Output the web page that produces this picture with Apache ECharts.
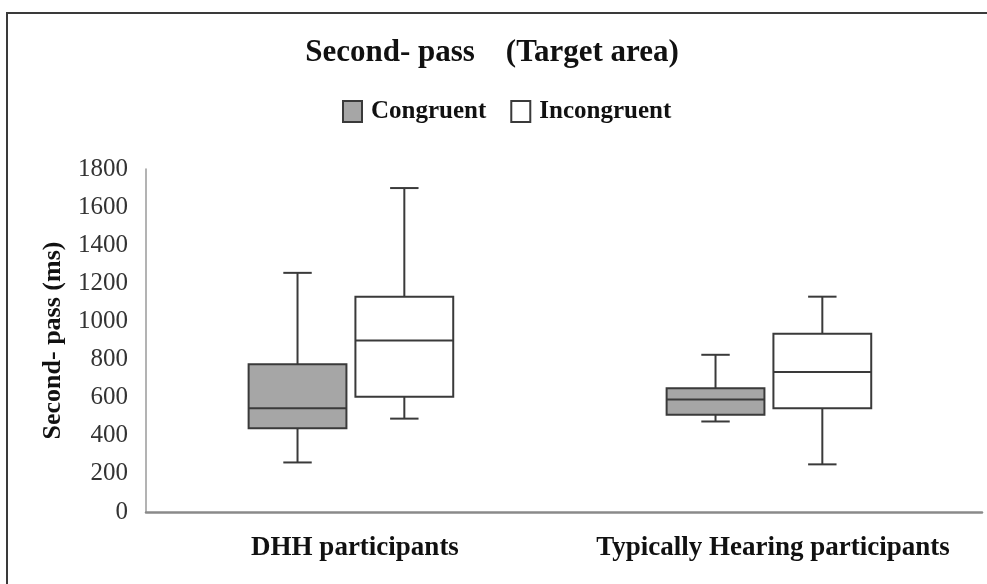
<!DOCTYPE html>
<html>
<head>
<meta charset="utf-8">
<script src="https://cdn.jsdelivr.net/npm/echarts@6/dist/echarts.min.js"></script>
<style>
  html, body { margin: 0; padding: 0; background: #fff; }
  #chart { width: 987px; height: 584px; }
</style>
</head>
<body>
<div id="chart"></div>
<script>
// Groups on the x axis
const categories = ['DHH participants', 'Typically Hearing participants'];
// Box statistics per group: [min, Q1, median, Q3, max] in ms
const congruent = [
  [260, 440, 545, 775, 1255],
  [475, 510, 590, 650, 825]
];
const incongruent = [
  [490, 605, 900, 1130, 1700],
  [250, 545, 735, 935, 1130]
];
const yTicks = { min: 0, max: 1800, step: 200 };

const SERIF = '"Liberation Serif", "Times New Roman", serif';
const STROKE = '#3a3a3a';

// Box-and-whisker drawn through the axes: offset and widths are fractions of the category band
function makeBoxRenderer(offset, fill) {
  return function (params, api) {
    const cat = api.value(0);
    const band = api.size([1, 0])[0];
    const cx = api.coord([cat, 0])[0] + offset * band;
    const w = band * 0.234;
    const cap = band * 0.068;
    const y = i => api.coord([cat, api.value(i)])[1];
    const yMin = y(1), yQ1 = y(2), yMed = y(3), yQ3 = y(4), yMax = y(5);
    const lineStyle = { stroke: STROKE, lineWidth: 2 };
    return {
      type: 'group',
      children: [
        { type: 'line', shape: { x1: cx, y1: yQ1, x2: cx, y2: yMin }, style: lineStyle },
        { type: 'line', shape: { x1: cx - cap / 2, y1: yMin, x2: cx + cap / 2, y2: yMin }, style: lineStyle },
        { type: 'line', shape: { x1: cx, y1: yQ3, x2: cx, y2: yMax }, style: lineStyle },
        { type: 'line', shape: { x1: cx - cap / 2, y1: yMax, x2: cx + cap / 2, y2: yMax }, style: lineStyle },
        { type: 'rect', shape: { x: cx - w / 2, y: yQ3, width: w, height: yQ1 - yQ3 },
          style: { fill: fill, stroke: STROKE, lineWidth: 2 } },
        { type: 'line', shape: { x1: cx - w / 2, y1: yMed, x2: cx + w / 2, y2: yMed }, style: lineStyle }
      ]
    };
  };
}

const toData = arr => arr.map((s, i) => [i].concat(s));

const chart = echarts.init(document.getElementById('chart'), null, { renderer: 'canvas' });
chart.setOption({
  backgroundColor: '#fff',
  animation: false,
  title: {
    text: 'Second- pass    (Target area)',
    left: 487,
    textAlign: 'center',
    top: 32,
    textStyle: { fontFamily: SERIF, fontSize: 31, fontWeight: 'bold', color: '#111' }
  },
  legend: {
    left: 337,
    top: 94,
    icon: 'rect',
    itemWidth: 19,
    itemHeight: 21,
    itemGap: 24,
    textStyle: { fontFamily: SERIF, fontSize: 25, fontWeight: 'bold', color: '#111', padding: [0, 0, 0, 4] },
    data: ['Congruent', 'Incongruent']
  },
  grid: { left: 146, right: 5, top: 169, bottom: 72, containLabel: false },
  xAxis: {
    type: 'category',
    data: categories,
    axisTick: { show: false },
    axisLine: { lineStyle: { color: '#8a8a8a', width: 2.5 } },
    axisLabel: { interval: 0, margin: 23, fontFamily: SERIF, fontSize: 27, fontWeight: 'bold', color: '#111' }
  },
  yAxis: {
    type: 'value',
    min: yTicks.min,
    max: yTicks.max,
    interval: yTicks.step,
    name: 'Second- pass (ms)',
    nameLocation: 'middle',
    nameGap: 80,
    nameTextStyle: { fontFamily: SERIF, fontSize: 26, fontWeight: 'bold', color: '#111' },
    axisLine: { show: true, lineStyle: { color: '#9a9a9a', width: 1.5 } },
    axisTick: { show: false },
    splitLine: { show: false },
    axisLabel: { margin: 18, fontFamily: SERIF, fontSize: 25, color: '#333', formatter: v => String(v) }
  },
  series: [
    {
      name: 'Congruent',
      type: 'custom',
      renderItem: makeBoxRenderer(-0.1375, '#a6a6a6'),
      itemStyle: { color: '#a6a6a6', borderColor: STROKE, borderWidth: 1.5 },
      encode: { x: 0, y: [1, 2, 3, 4, 5] },
      data: toData(congruent)
    },
    {
      name: 'Incongruent',
      type: 'custom',
      renderItem: makeBoxRenderer(0.118, '#ffffff'),
      itemStyle: { color: '#ffffff', borderColor: STROKE, borderWidth: 1.5 },
      encode: { x: 0, y: [1, 2, 3, 4, 5] },
      data: toData(incongruent)
    }
  ],
  graphic: [
    {
      type: 'rect',
      silent: true,
      shape: { x: 7, y: 13, width: 1000, height: 600 },
      style: { fill: 'none', stroke: '#3a3a3a', lineWidth: 2 }
    }
  ]
});
</script>
</body>
</html>
